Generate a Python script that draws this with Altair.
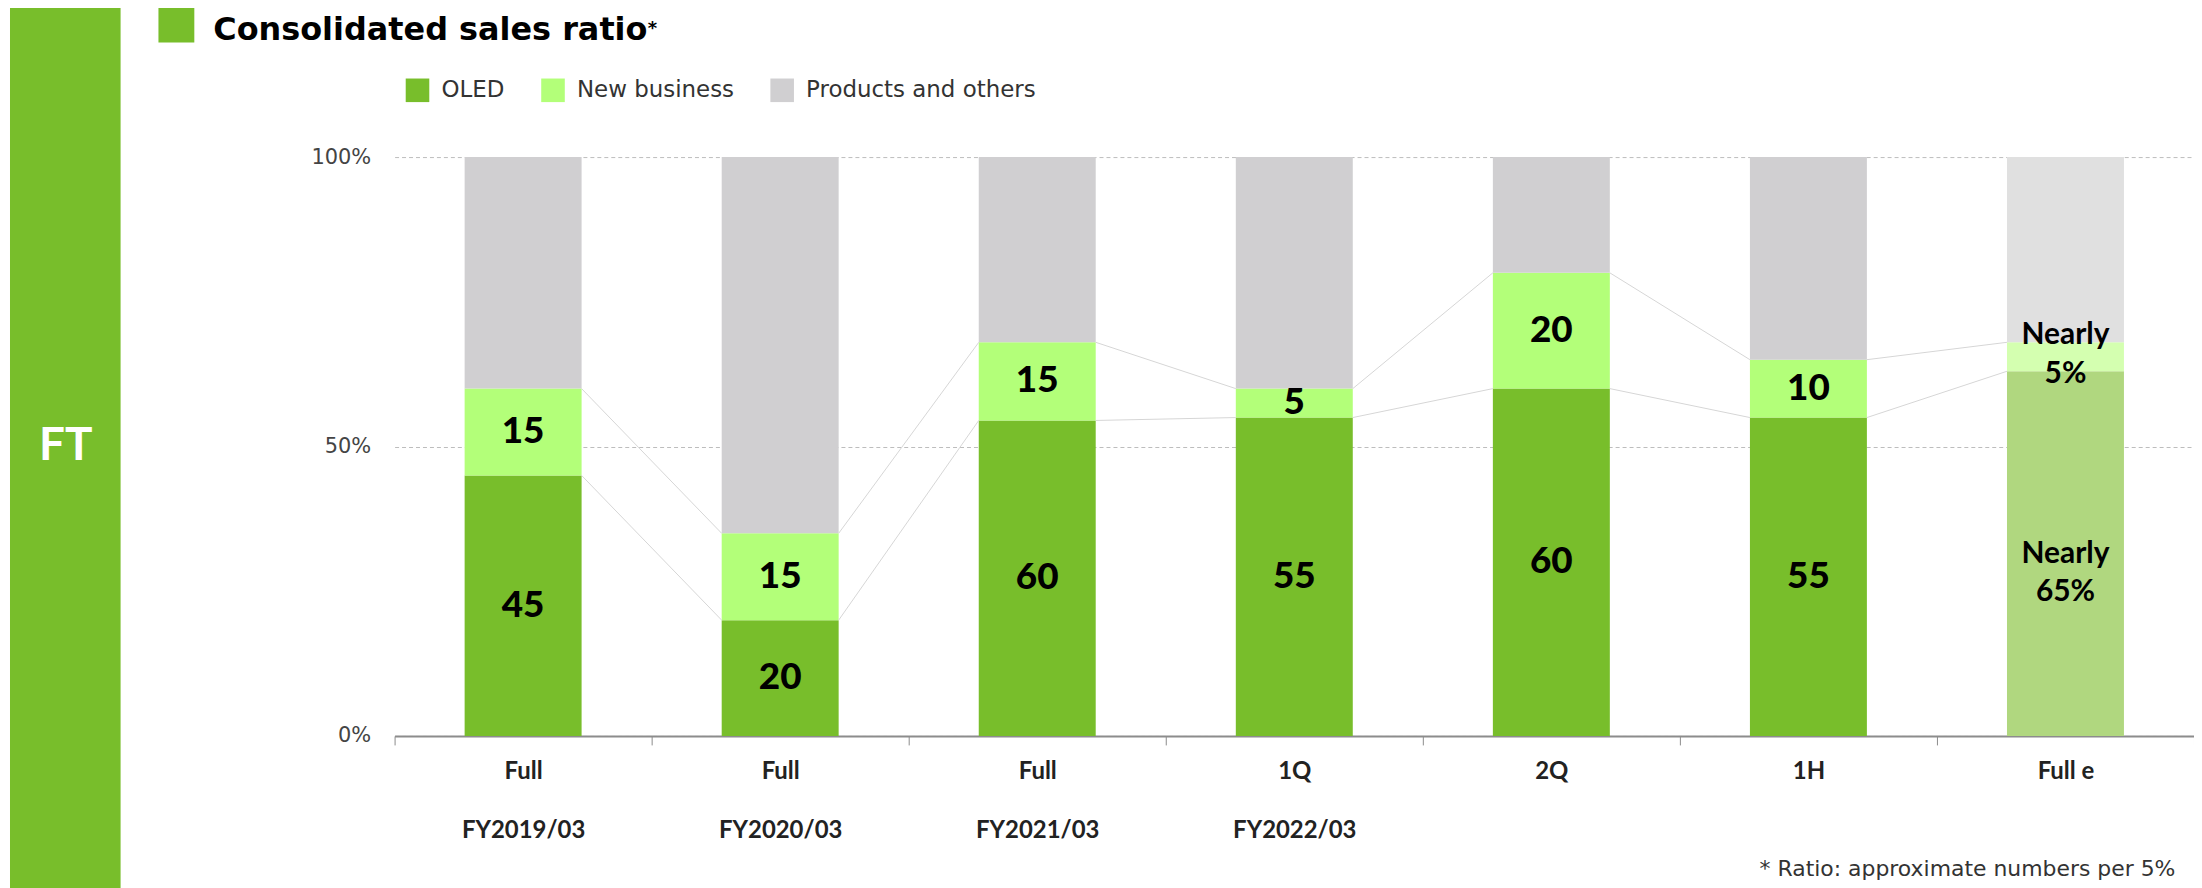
import json
import pandas as pd
import altair as alt

# ---------------- data ----------------
periods = ["Full", "Full", "Full", "1Q", "2Q", "1H", "Full e"]
fiscal_years = ["FY2019/03", "FY2020/03", "FY2021/03", "FY2022/03", "", "", ""]
estimate = [False, False, False, False, False, False, True]
oled = [45, 20, 54.5, 55, 60, 55, 63]
new_business = [15, 15, 13.5, 5, 20, 10, 5]
oled_labels = ["45", "20", "60", "55", "60", "55", "Nearly\n65%"]
new_business_labels = ["15", "15", "15", "5", "20", "10", "Nearly\n5%"]
segments = ["OLED", "New business", "Products and others"]
y_ticks = [0, 50, 100]

# ---------------- layout / style ----------------
W, H = 1806, 581
BAR = 0.455
LO, HI = (1 - BAR) / 2, (1 + BAR) / 2
GREEN = "#78be2b"
colors = ["#78be2b", "#b3ff79", "#d0cfd1", "#b0d77f", "#d4ffb0", "#e0e0e0"]
keys = segments + [s + " (e)" for s in segments]
BOLD = "Lato"
LIGHT = "DejaVu Sans"

n = len(periods)
rows = []
for i in range(n):
    vals = [oled[i], new_business[i], 100 - oled[i] - new_business[i]]
    base = 0
    for s, v in zip(segments, vals):
        rows.append({"idx": i, "segment": s,
                     "key": s + (" (e)" if estimate[i] else ""),
                     "y0": base, "y1": base + v})
        base += v
bars_df = pd.DataFrame(rows)

lab_rows = []
for i in range(n):
    lab_rows.append({"idx": i, "segment": "OLED", "text": oled_labels[i],
                     "ym": oled[i] / 2, "est": estimate[i]})
    lab_rows.append({"idx": i, "segment": "New business", "text": new_business_labels[i],
                     "ym": oled[i] + new_business[i] / 2, "est": estimate[i]})
labels_df = pd.DataFrame(lab_rows)

con_rows = []
for i in range(n - 1):
    con_rows.append({"idx": i, "ya": oled[i], "yb": oled[i + 1]})
    con_rows.append({"idx": i, "ya": oled[i] + new_business[i],
                     "yb": oled[i + 1] + new_business[i + 1]})
con_df = pd.DataFrame(con_rows)

label_arrays = [[p, fy] if fy else [p] for p, fy in zip(periods, fiscal_years)] + [[""]]
label_expr = json.dumps(label_arrays) + "[datum.value]"

xscale = alt.Scale(domain=[0, n], nice=False, zero=False)
yscale = alt.Scale(domain=[0, 100], nice=False)

xaxis = alt.Axis(values=list(range(n + 1)), labelExpr=label_expr, labelOffset=W / (2 * n),
                 tickSize=9, tickColor="#8c8c8c", tickWidth=1,
                 domainColor="#8c8c8c", domainWidth=2, grid=False, title=None,
                 labelFlush=False, labelOverlap=False, labelBound=False,
                 labelFont=BOLD, labelFontWeight="bold", labelFontSize=24,
                 labelColor="#222222", labelBaseline="top", labelPadding=15,
                 labelLineHeight=59)
yaxis = alt.Axis(values=y_ticks, labelExpr="datum.value + '%'", ticks=False, tickSize=0,
                 domain=False, grid=True, gridDash=[4, 3], gridColor="#bdbdbd",
                 gridWidth=1, title=None, labelFont=LIGHT, labelFontSize=21,
                 labelColor="#444444", labelPadding=24)

bars = alt.Chart(bars_df).transform_calculate(
    xa=f"datum.idx + {LO}", xb=f"datum.idx + {HI}"
).mark_bar().encode(
    x=alt.X("xa:Q", scale=xscale, axis=xaxis),
    x2="xb:Q",
    y=alt.Y("y0:Q", scale=yscale, axis=yaxis),
    y2="y1:Q",
    color=alt.Color("key:N", scale=alt.Scale(domain=keys, range=colors),
                    legend=alt.Legend(values=segments, orient="none", legendX=11, legendY=-79,
                                      direction="horizontal", title=None,
                                      symbolType="square", symbolSize=560,
                                      symbolStrokeWidth=0, symbolOpacity=1,
                                      labelFont=LIGHT, labelFontSize=23, labelColor="#333333",
                                      labelOffset=12, columnPadding=36, padding=0,
                                      labelLimit=500)),
)

connectors = alt.Chart(con_df).transform_calculate(
    xa=f"datum.idx + {HI}", xb=f"datum.idx + 1 + {LO}"
).mark_rule(color="#d6d6d6", strokeWidth=1).encode(
    x=alt.X("xa:Q", scale=xscale, axis=xaxis),
    x2="xb:Q",
    y=alt.Y("ya:Q", scale=yscale, axis=yaxis),
    y2="yb:Q",
)


def label_layer(filter_expr, size, dy=0, weight="bold"):
    return alt.Chart(labels_df).transform_filter(filter_expr).transform_calculate(
        xa="datum.idx + 0.5"
    ).mark_text(font=BOLD, fontWeight=weight, fontSize=size, color="#000000",
                align="center", baseline="middle", lineBreak="\n", lineHeight=39,
                dy=dy).encode(
        x=alt.X("xa:Q", scale=xscale, axis=xaxis),
        y=alt.Y("ym:Q", scale=yscale, axis=yaxis),
        text="text:N",
    )


num_labels = label_layer("!datum.est", 37, 0, 900)
est_oled_labels = label_layer("datum.est && datum.segment == 'OLED'", 30, 0)
est_nb_labels = label_layer("datum.est && datum.segment == 'New business'", 30, -22)

one = pd.DataFrame({"d": [0]})
side_bar = alt.Chart(one).mark_rect(color=GREEN).encode(
    x=alt.value(-386), x2=alt.value(-275), y=alt.value(-150), y2=alt.value(H + 170))
side_text = alt.Chart(one).mark_text(
    text="FT", font="Liberation Sans Narrow, Lato", fontWeight="bold", fontSize=46,
    color="white", align="center", baseline="middle").encode(x=alt.value(-330), y=alt.value(290))
title_sq = alt.Chart(one).mark_rect(color=GREEN).encode(
    x=alt.value(-237), x2=alt.value(-201), y=alt.value(-150), y2=alt.value(-115))
title = alt.Chart(one).mark_text(
    text="Consolidated sales ratio", font=LIGHT, fontWeight="bold", fontSize=32,
    color="#000000", align="left", baseline="alphabetic").encode(x=alt.value(-182), y=alt.value(-117))
star = alt.Chart(one).mark_text(
    text="*", font=LIGHT, fontWeight="bold", fontSize=18, color="#000000",
    align="left", baseline="alphabetic").encode(x=alt.value(254), y=alt.value(-124))
footnote = alt.Chart(one).mark_text(
    text="* Ratio: approximate numbers per 5%", font=LIGHT, fontSize=22, color="#333333",
    align="left", baseline="alphabetic").encode(x=alt.value(1370), y=alt.value(722))

chart = alt.layer(
    side_bar, side_text, title_sq, title, star, footnote,
    bars, connectors, num_labels, est_oled_labels, est_nb_labels,
).properties(
    width=W, height=H,
    autosize=alt.AutoSizeParams(type="none"),
    padding={"left": 388, "top": 148, "right": 0, "bottom": 151},
).configure_view(strokeWidth=0)

chart.save("out.html", embed_options={"renderer": "svg", "actions": False})
